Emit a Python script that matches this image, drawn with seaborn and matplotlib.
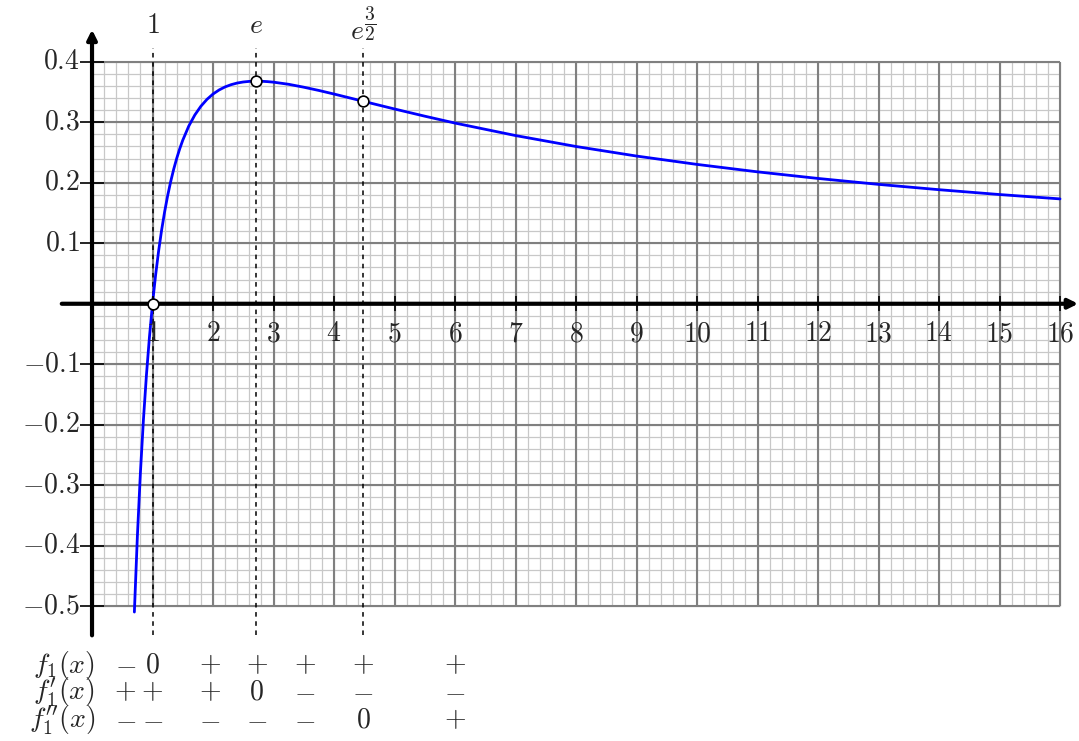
import numpy as np
import pandas as pd
import matplotlib
matplotlib.use("Agg")
import matplotlib.pyplot as plt
import seaborn as sns

# courbe
x_vals = [0.70, 0.75, 0.80, 0.85, 0.90, 0.95, 1.00, 1.05, 1.10, 1.15, 1.20, 1.25,
          1.30, 1.35, 1.40, 1.45, 1.50, 1.60, 1.70, 1.80, 1.90, 2.00, 2.10, 2.20,
          2.30, 2.40, 2.50, 2.60, 2.70, 2.80, 2.90, 3.00, 3.25, 3.50, 3.75, 4.00,
          4.50, 5.00, 5.50, 6.00, 7.00, 8.00, 9.00, 10.0, 11.0, 12.0, 13.0, 14.0,
          15.0, 16.0]
y_vals = [-0.5095, -0.3836, -0.2789, -0.1912, -0.1171, -0.0540, 0.0, 0.0465, 0.0866,
          0.1215, 0.1519, 0.1785, 0.2018, 0.2223, 0.2403, 0.2562, 0.2703, 0.2938,
          0.3121, 0.3265, 0.3378, 0.3466, 0.3533, 0.3584, 0.3621, 0.3648, 0.3665,
          0.3675, 0.3679, 0.3677, 0.3671, 0.3662, 0.3627, 0.3579, 0.3525, 0.3466,
          0.3342, 0.3219, 0.3100, 0.2986, 0.2780, 0.2599, 0.2441, 0.2303, 0.2180,
          0.2071, 0.1973, 0.1885, 0.1805, 0.1733]

# points remarquables
pts_x = [1.0, 2.7183, 4.4817]
pts_y = [0.0, 0.3679, 0.3347]
pts_lab = [r"$1$", r"$e$", r"$e^{\dfrac{3}{2}}$"]

x_ticks = list(range(1, 17))
y_ticks = [-0.5, -0.4, -0.3, -0.2, -0.1, 0.1, 0.2, 0.3, 0.4]

# tableau de signes
tab_rows = [r"$f_1(x)$", r"$f_1'(x)$", r"$f_1''(x)$"]
tab_x = [0.55, 1.0, 1.95, 2.72, 3.52, 4.48, 6.0]
tab_signs = [
    ["-", "0", "+", "+", "+", "+", "+"],
    ["+", "+", "+", "0", "-", "-", "-"],
    ["-", "-", "-", "-", "-", "0", "+"],
]

sns.set_style("white")
plt.rcParams["mathtext.fontset"] = "cm"
plt.rcParams["font.family"] = ["serif"]
plt.rcParams["font.serif"] = ["cmr10", "DejaVu Serif"]

FS = 20

fig = plt.figure(figsize=(10.79, 7.41), dpi=100)
ax = fig.add_axes([0, 0, 1, 1])
ax.set_xlim(-1.521, 16.314)
ax.set_ylim(-0.7226, 0.5020)

# quadrillage
xmin, xmax, ymin, ymax = 0, 16, -0.5, 0.4
for xm in np.arange(0, 16.001, 0.2):
    ax.vlines(xm, ymin, ymax, color="#c8c8c8", lw=0.9, zorder=1)
for ym in np.arange(-0.5, 0.4001, 0.02):
    ax.hlines(ym, xmin, xmax, color="#c8c8c8", lw=0.9, zorder=1)
for xm in range(0, 17):
    ax.vlines(xm, ymin, ymax, color="#808080", lw=1.5, zorder=2)
for ym in np.arange(-0.5, 0.4001, 0.1):
    ax.hlines(ym, xmin, xmax, color="#808080", lw=1.5, zorder=2)

# axes
arrow = dict(arrowstyle="-|>", lw=3, color="black", mutation_scale=14,
             shrinkA=0, shrinkB=0)
ax.annotate("", xy=(16.30, 0), xytext=(-0.5, 0), arrowprops=arrow,
            annotation_clip=False, zorder=5)
ax.annotate("", xy=(0, 0.453), xytext=(0, -0.548), arrowprops=arrow,
            annotation_clip=False, zorder=5)

for t in x_ticks:
    ax.vlines(t, -0.012, 0.012, color="black", lw=1.2, zorder=5)
    ax.text(t, -0.028, f"${t}$", ha="center", va="top", fontsize=FS, zorder=6)
for t in y_ticks:
    ax.hlines(t, -0.2, 0.2, color="black", lw=1.2, zorder=5)
    ax.text(-0.2, t, f"${t:.1f}$", ha="right", va="center", fontsize=FS, zorder=6)

# lignes pointillees
for px, lab in zip(pts_x, pts_lab):
    ax.vlines(px, -0.548, 0.423, color="black", lw=1.1, linestyles=(0, (3, 3)), zorder=3)
    ax.text(px, 0.437, lab, ha="center", va="baseline" if "dfrac" in lab else "bottom",
            fontsize=FS)

df = pd.DataFrame({"x": x_vals, "y": y_vals})
sns.lineplot(data=df, x="x", y="y", ax=ax, color="#0000ff", lw=2, sort=False,
             estimator=None, zorder=4)
sns.scatterplot(x=pts_x, y=pts_y, ax=ax, s=60, color="white", edgecolor="black",
                linewidth=1.2, zorder=7)
ax.set_xlim(-1.521, 16.314)
ax.set_ylim(-0.7226, 0.5020)
ax.axis("off")

# tableau
row_y = [-0.597, -0.642, -0.688]
for ry, name, signs in zip(row_y, tab_rows, tab_signs):
    ax.text(0.05, ry, name, ha="right", va="center", fontsize=FS)
    for tx, s in zip(tab_x, signs):
        ax.text(tx, ry, f"${s}$", ha="center", va="center", fontsize=FS)

fig.savefig("out.png", dpi=100)
